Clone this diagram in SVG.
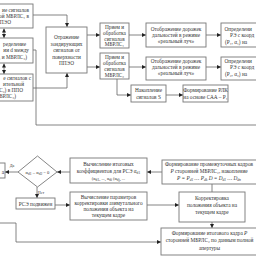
<svg xmlns="http://www.w3.org/2000/svg" width="256" height="256" viewBox="0 0 256 256">
<style>
.b{fill:#fff;stroke:#777;stroke-width:0.9}
.t{font-family:"Liberation Serif","Times New Roman",serif;font-size:5.3px;fill:#333;text-anchor:middle}
.e{text-anchor:end}
.s{text-anchor:start}
.c{fill:none;stroke:#666;stroke-width:0.8}
.a{marker-end:url(#ah)}
.sub{font-size:3.6px}
</style>
<defs>
<marker id="ah" markerUnits="userSpaceOnUse" markerWidth="5" markerHeight="5" refX="4" refY="2" orient="auto"><path d="M0,0 L4,2 L0,4 Z" fill="#222"/></marker>
<marker id="as" markerUnits="userSpaceOnUse" markerWidth="5" markerHeight="5" refX="0" refY="2" orient="auto"><path d="M4,0 L0,2 L4,4 Z" fill="#222"/></marker>
</defs>
<rect width="256" height="256" fill="#fff"/>
<g id="connectors">
<path class="c a" d="M33,15 H67 V27"/>
<path class="c a" d="M4,28.5 V38" style="marker-start:url(#as)"/>
<path class="c a" d="M4,63.5 V74" style="marker-start:url(#as)"/>
<path class="c" d="M33,50 H36 V125 H256"/>
<path class="c a" d="M33,88 H67 V73"/>
<path class="c a" d="M87,35 H100"/>
<path class="c a" d="M87,67 H100"/>
<path class="c a" d="M129,35 H146"/>
<path class="c a" d="M129,67 H146"/>
<path class="c a" d="M206,35 H221"/>
<path class="c a" d="M206,67 H221"/>
<path class="c a" d="M117,79 V95 H131"/>
<path class="c a" d="M166,95 H183"/>
<path class="c a" d="M162,172 H147"/>
<path class="c a" d="M70,172 H57"/>
<path class="c a" d="M18,172 H5"/>
<path class="c a" d="M37,187 V198"/>
<path class="c a" d="M55,205 H70"/>
<path class="c a" d="M147,205 H179"/>
<path class="c" d="M212,184 V192"/>
<path class="c a" d="M212,222 V228"/>
<path class="c a" d="M0,223 H16 V242 H161"/>
<text class="t" x="12" y="167" style="font-size:4px">Да</text>
<text class="t" x="41" y="194" style="font-size:4px">Нет</text>
</g>
<g id="L1"><rect class="b" x="-20" y="4" width="53" height="24"/>
<text class="t e" x="29" y="11.5">ие сигналов</text><text class="t e" x="29" y="17.5">ой МБРЛС₁ в</text><text class="t e" x="11" y="23.5">ПЭО</text></g>
<g id="L2"><rect class="b" x="-20" y="38" width="53" height="25"/>
<text class="t e" x="26" y="45.5">ределение</text><text class="t e" x="29" y="52">ии d между</text><text class="t e" x="27" y="58.5">₁ и МБРЛС₂)</text></g>
<g id="L3"><rect class="b" x="-20" y="74" width="53" height="27"/>
<text class="t e" x="31" y="80">е сигналов с</text><text class="t e" x="24" y="86">ительной</text><text class="t e" x="23" y="92">С₂) в ППО</text><text class="t e" x="16" y="98">БРЛС₂)</text></g>
<g id="C"><rect class="b" x="46" y="27" width="41" height="46"/>
<text class="t" x="66.5" y="39">Отражение</text><text class="t" x="66.5" y="45.5">зондирующих</text><text class="t" x="66.5" y="52">сигналов от</text><text class="t" x="66.5" y="58.5">поверхности</text><text class="t" x="66.5" y="65">ППЭО</text></g>
<g id="R1"><rect class="b" x="100" y="23" width="29" height="25"/>
<text class="t" x="114.5" y="28.5">Прием и</text><text class="t" x="114.5" y="34.5">обработка</text><text class="t" x="114.5" y="40.5">сигналов</text><text class="t" x="114.5" y="46">МБРЛС₁</text></g>
<g id="R2"><rect class="b" x="100" y="53" width="29" height="26"/>
<text class="t" x="114.5" y="58.5">Прием и</text><text class="t" x="114.5" y="64.5">обработка</text><text class="t" x="114.5" y="70.5">сигналов</text><text class="t" x="114.5" y="76.5">МБРЛС₂</text></g>
<g id="D1"><rect class="b" x="146" y="23" width="60" height="24"/>
<text class="t" x="176" y="31">Отображение дорожек</text><text class="t" x="176" y="37">дальностей в режиме</text><text class="t" x="176" y="43">«реальный луч»</text></g>
<g id="D2"><rect class="b" x="146" y="57" width="60" height="23"/>
<text class="t" x="176" y="63">Отображение дорожек</text><text class="t" x="176" y="69">дальностей в режиме</text><text class="t" x="176" y="75">«реальный луч»</text></g>
<g id="O1"><rect class="b" x="221" y="23" width="40" height="24"/>
<text class="t s" x="224.5" y="31">Определени</text><text class="t s" x="230" y="37">РЭ с коорд</text><text class="t s" x="225" y="43.5">(P₁, α₁) на</text></g>
<g id="O2"><rect class="b" x="221" y="57" width="40" height="23"/>
<text class="t s" x="224.5" y="63">Определени</text><text class="t s" x="230" y="69">РЭ с коорд</text><text class="t s" x="225" y="75.5">(P₂, α₂) на</text></g>
<g id="N"><rect class="b" x="131" y="85" width="35" height="17"/>
<text class="t" x="148.5" y="92">Накопление</text><text class="t" x="148.5" y="98.5">сигналов S</text></g>
<g id="F"><rect class="b" x="183" y="85" width="45" height="17"/>
<text class="t" x="205.5" y="92">Формирование РЛК</text><text class="t" x="205.5" y="98.5">на основе САА – P₁</text></g>
<g id="Y"><rect class="b" x="-20" y="163" width="25" height="15"/>
<text class="t e" x="4" y="174">а</text></g>
<g id="Dm"><path class="b" d="M18,172 L37.5,156 L57,172 L37.5,187 Z"/>
<text class="t" x="37.5" y="174" style="font-size:4.6px">α<tspan class="sub" dy="1">d1</tspan><tspan dy="-1"> – α</tspan><tspan class="sub" dy="1">d2</tspan><tspan dy="-1"> = 0</tspan></text></g>
<g id="V1"><rect class="b" x="70" y="158" width="77" height="25"/>
<text class="t" x="108.5" y="166">Вычисление итоговых</text><text class="t" x="108.5" y="172.5">коэффициентов для РСЭ α<tspan class="sub" dy="1">d1</tspan></text><text class="t" x="108.5" y="179.5" style="font-size:4.4px">(α<tspan class="sub" dy="1">d1</tspan><tspan dy="-1">, ..., α</tspan><tspan class="sub" dy="1">di</tspan><tspan dy="-1"> (α</tspan><tspan class="sub" dy="1">dj</tspan><tspan dy="-1">, ...</tspan></text></g>
<g id="P"><rect class="b" x="16" y="198" width="39" height="11"/>
<text class="t" x="35.5" y="205.5">РСЭ подвижен</text></g>
<g id="V2"><rect class="b" x="70" y="192" width="77" height="28"/>
<text class="t" x="108.5" y="198.5">Вычисление параметров</text><text class="t" x="108.5" y="204.5">корректировки азимутального</text><text class="t" x="108.5" y="210.5">положения объекта на</text><text class="t" x="108.5" y="216.5">текущем кадре</text></g>
<g id="FP"><rect class="b" x="162" y="160" width="97" height="24"/>
<text class="t" x="209" y="166">Формирование промежуточных кадров</text><text class="t" x="209" y="172.5"><tspan font-style="italic">P</tspan> сторонней МБРЛС₂, накопление</text><text class="t" x="209" y="179.5" style="font-style:italic">P = P<tspan class="sub" dy="1">d1</tspan><tspan dy="-1"> … P</tspan><tspan class="sub" dy="1">dk</tspan><tspan dy="-1"> D = D</tspan><tspan class="sub" dy="1">d1</tspan><tspan dy="-1"> … D</tspan><tspan class="sub" dy="1">dn</tspan></text></g>
<g id="K"><rect class="b" x="179" y="192" width="66" height="30"/>
<text class="t" x="212" y="200">Корректировка</text><text class="t" x="212" y="207">положения объекта на</text><text class="t" x="212" y="214">текущем кадре</text></g>
<g id="FI"><rect class="b" x="161" y="228" width="98" height="27"/>
<text class="t" x="209.5" y="235">Формирование итогового кадра <tspan font-style="italic">P</tspan></text><text class="t" x="209.5" y="242">сторонней МБРЛС₂ по данным полной</text><text class="t" x="209.5" y="249.5">апертуры</text></g>
</svg>
